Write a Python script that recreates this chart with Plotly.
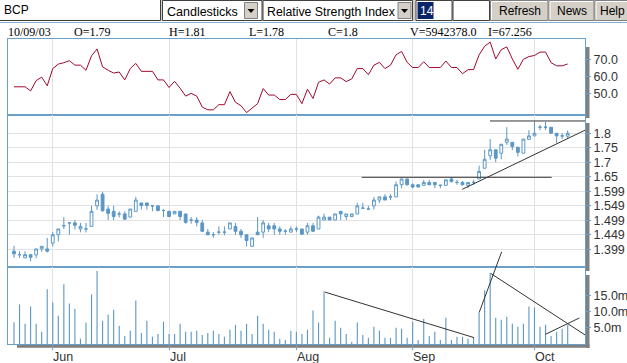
import plotly.graph_objects as go
import pandas as pd

# ---------------- data ----------------
dates = pd.bdate_range("2003-05-22", "2003-10-09")
xi = list(range(len(dates)))

opens = [1.392, 1.380, 1.369, 1.380, 1.379, 1.400, 1.400, 1.420, 1.449, 1.480,
         1.490, 1.490, 1.469, 1.469, 1.478, 1.549, 1.589, 1.538, 1.530, 1.521,
         1.521, 1.510, 1.530, 1.559, 1.559, 1.549, 1.549, 1.533, 1.530, 1.521,
         1.530, 1.521, 1.500, 1.500, 1.490, 1.458, 1.449, 1.458, 1.458, 1.469,
         1.478, 1.461, 1.449, 1.409, 1.458, 1.458, 1.480, 1.480, 1.469, 1.461,
         1.458, 1.469, 1.469, 1.458, 1.480, 1.469, 1.500, 1.510, 1.500, 1.530,
         1.512, 1.512, 1.521, 1.541, 1.538, 1.549, 1.569, 1.580, 1.580, 1.580,
         1.622, 1.642, 1.622, 1.622, 1.620, 1.630, 1.630, 1.620, 1.620, 1.642,
         1.630, 1.630, 1.620, 1.630, 1.642, 1.679, 1.722, 1.743, 1.731, 1.769,
         1.769, 1.752, 1.731, 1.779, 1.791, 1.821, 1.821, 1.821, 1.800, 1.791,
         1.790]
highs = [1.411, 1.392, 1.392, 1.380, 1.400, 1.409, 1.438, 1.458, 1.469, 1.510,
         1.490, 1.500, 1.490, 1.490, 1.549, 1.589, 1.598, 1.549, 1.549, 1.530,
         1.530, 1.538, 1.580, 1.559, 1.559, 1.549, 1.549, 1.538, 1.532, 1.530,
         1.530, 1.521, 1.510, 1.510, 1.500, 1.469, 1.458, 1.478, 1.478, 1.490,
         1.490, 1.469, 1.449, 1.438, 1.510, 1.500, 1.490, 1.490, 1.478, 1.469,
         1.478, 1.478, 1.469, 1.490, 1.490, 1.515, 1.522, 1.510, 1.521, 1.530,
         1.521, 1.521, 1.559, 1.559, 1.549, 1.580, 1.580, 1.589, 1.589, 1.633,
         1.642, 1.642, 1.627, 1.622, 1.639, 1.639, 1.630, 1.622, 1.639, 1.648,
         1.639, 1.635, 1.630, 1.639, 1.688, 1.743, 1.780, 1.743, 1.762, 1.821,
         1.769, 1.752, 1.780, 1.811, 1.840, 1.829, 1.840, 1.821, 1.800, 1.800,
         1.810]
lows = [1.369, 1.369, 1.369, 1.357, 1.368, 1.390, 1.388, 1.409, 1.426, 1.469,
        1.449, 1.467, 1.457, 1.457, 1.478, 1.535, 1.529, 1.500, 1.500, 1.509,
        1.500, 1.510, 1.530, 1.536, 1.536, 1.530, 1.530, 1.510, 1.510, 1.521,
        1.500, 1.487, 1.487, 1.478, 1.458, 1.447, 1.438, 1.449, 1.447, 1.469,
        1.449, 1.438, 1.409, 1.409, 1.449, 1.438, 1.458, 1.449, 1.449, 1.449,
        1.458, 1.458, 1.449, 1.449, 1.458, 1.469, 1.500, 1.500, 1.500, 1.500,
        1.500, 1.512, 1.521, 1.538, 1.536, 1.536, 1.559, 1.569, 1.569, 1.580,
        1.610, 1.619, 1.610, 1.614, 1.620, 1.620, 1.610, 1.610, 1.620, 1.630,
        1.622, 1.620, 1.610, 1.622, 1.642, 1.679, 1.708, 1.700, 1.710, 1.760,
        1.742, 1.720, 1.731, 1.779, 1.791, 1.811, 1.811, 1.800, 1.766, 1.780,
        1.780]
closes = [1.383, 1.380, 1.380, 1.371, 1.400, 1.409, 1.392, 1.449, 1.469, 1.480,
          1.490, 1.482, 1.478, 1.469, 1.530, 1.569, 1.532, 1.523, 1.512, 1.521,
          1.503, 1.538, 1.569, 1.550, 1.550, 1.549, 1.533, 1.533, 1.512, 1.530,
          1.512, 1.492, 1.500, 1.492, 1.461, 1.449, 1.449, 1.458, 1.458, 1.490,
          1.461, 1.449, 1.429, 1.438, 1.449, 1.490, 1.469, 1.469, 1.461, 1.461,
          1.469, 1.469, 1.451, 1.480, 1.461, 1.510, 1.510, 1.500, 1.521, 1.521,
          1.521, 1.521, 1.549, 1.541, 1.538, 1.569, 1.580, 1.569, 1.580, 1.622,
          1.642, 1.622, 1.614, 1.614, 1.630, 1.622, 1.622, 1.620, 1.639, 1.633,
          1.630, 1.622, 1.630, 1.630, 1.668, 1.710, 1.743, 1.714, 1.762, 1.780,
          1.754, 1.734, 1.780, 1.791, 1.800, 1.821, 1.821, 1.800, 1.791, 1.791,
          1.800]
volume_m = [6.7, 12.2, 6.25, 11.6, 6.25, 3.75, 16.9, 12.8, 8.75, 18.4,
            12.5, 10.9, 1.6, 6.6, 15.3, 22.5, 7.2, 9.1, 10.6, 5.6,
            2.5, 4.1, 13.4, 3.4, 7.2, 2.2, 3.1, 6.9, 3.1, 3.1,
            6.25, 3.75, 3.75, 4.1, 2.8, 3.4, 4.1, 3.1, 2.2, 4.4,
            5.9, 4.1, 6.25, 3.1, 8.75, 6.25, 4.4, 3.75, 1.6, 1.25,
            4.1, 3.75, 3.1, 4.4, 10.3, 6.6, 16.25, 1.9, 7.2, 5.0,
            3.1, 0.6, 6.6, 2.8, 1.9, 5.3, 4.1, 1.9, 1.9, 5.0,
            4.7, 1.9, 6.9, 1.25, 7.8, 2.5, 3.75, 1.25, 8.1, 1.25,
            2.2, 2.2, 1.6, 1.9, 9.8, 16.6, 21.8, 8.1, 7.5, 8.4,
            6.25, 5.3, 6.25, 11.6, 11.25, 5.3, 5.9, 2.5, 3.75, 4.7,
            5.94]
rsi = [54.0, 54.0, 54.0, 51.6, 57.6, 59.6, 54.6, 64.6, 67.2, 68.0,
       69.2, 66.6, 66.6, 63.6, 72.0, 76.0, 65.6, 63.6, 62.0, 62.6,
       58.0, 64.6, 67.6, 63.0, 63.0, 63.0, 58.0, 58.0, 53.6, 57.2,
       53.2, 48.6, 50.2, 48.6, 42.2, 40.6, 40.6, 43.6, 43.6, 51.2,
       45.0, 43.0, 39.0, 41.6, 44.2, 53.0, 49.2, 49.2, 46.6, 46.6,
       49.6, 49.6, 44.2, 52.6, 47.2, 56.6, 58.0, 55.6, 59.2, 59.2,
       57.0, 58.6, 64.6, 64.6, 61.0, 66.6, 68.2, 64.6, 66.6, 72.6,
       74.6, 68.2, 65.2, 65.2, 68.6, 65.2, 65.2, 65.2, 69.0, 65.2,
       65.2, 61.6, 64.0, 64.0, 72.6, 77.6, 80.0, 70.2, 75.6, 77.2,
       70.2, 64.2, 70.0, 71.6, 72.2, 74.2, 74.2, 68.0, 66.2, 66.2,
       67.256]

month_labels = ["Jun", "Jul", "Aug", "Sep", "Oct"]
month_ticks = [i for i in range(1, len(dates)) if dates[i].month != dates[i - 1].month]

price_ticks = [1.399, 1.449, 1.499, 1.549, 1.599, 1.65, 1.7, 1.75, 1.8]
price_tick_text = ["1.399", "1.449", "1.499", "1.549", "1.599", "1.65", "1.7", "1.75", "1.8"]
rsi_ticks = [50, 60, 70]
rsi_tick_text = ["50.0", "60.0", "70.0"]
vol_ticks = [5, 10, 15]
vol_tick_text = ["5.0m", "10.0m", "15.0m"]

info_labels = ["10/09/03", "O=1.79", "H=1.81", "L=1.78", "C=1.8", "V=5942378.0", "I=67.256"]

# trendlines drawn by the user: (x0, y0, x1, y1) in index / value units
price_trendlines = [(85.97, 1.8426, 103.2, 1.8426),
                    (62.8, 1.6478, 97.1, 1.6478),
                    (80.96, 1.6062, 103.2, 1.8114),
                    (87.05, 1.3374, 88.08, 1.3903)]
volume_trendlines = [(56.17, 16.0, 83.08, 1.97),
                     (84.03, 9.78, 88.08, 28.5),
                     (86.09, 21.78, 103.2, 2.72),
                     (96.03, 3.03, 102.1, 8.03)]

# ---------------- styling ----------------
W, H = 627, 363
BLUE = "#5b97c6"
BORDER = "#6a9fca"
GRID = "#e2e2e2"
RED = "#a00a2c"
TXT = "#333333"
TB = "#d4d0c8"


def px(x):
    return x / W


def py(y):
    return 1 - y / H


fig = go.Figure()

fig.add_trace(go.Scatter(x=xi, y=rsi, mode="lines", line=dict(color=RED, width=1),
                         xaxis="x", yaxis="y", hoverinfo="skip"))
fig.add_trace(go.Candlestick(x=xi, open=opens, high=highs, low=lows, close=closes,
                             xaxis="x2", yaxis="y2", whiskerwidth=0,
                             increasing=dict(line=dict(color=BLUE, width=1), fillcolor="white"),
                             decreasing=dict(line=dict(color=BLUE, width=1), fillcolor=BLUE)))
fig.add_trace(go.Bar(x=xi, y=volume_m, width=0.2, xaxis="x3", yaxis="y3",
                     marker=dict(color=BLUE, line=dict(width=0))))

xr = [(8 - 14) / 5.537, (585 - 14) / 5.537]
xcommon = dict(domain=[px(8), px(585)], range=xr, showgrid=True, gridcolor=GRID, gridwidth=1,
               tickvals=month_ticks, showticklabels=False, zeroline=False, automargin=False,
               showline=True, mirror=True, linecolor=BORDER, linewidth=1, fixedrange=True)
ycommon = dict(side="right", showline=True, mirror=True, linecolor=BORDER, linewidth=1,
               ticks="outside", ticklen=5, tickcolor=BORDER, zeroline=False, automargin=False,
               tickfont=dict(family="Liberation Sans", size=12.5, color=TXT), fixedrange=True)

fig.update_layout(
    width=W, height=H, margin=dict(l=0, r=0, t=0, b=0, pad=0), autosize=False,
    paper_bgcolor="white", plot_bgcolor="white", showlegend=False, boxgap=0.28,
    xaxis=dict(anchor="y", ticks="", **xcommon),
    xaxis2=dict(anchor="y2", matches="x", ticks="", rangeslider=dict(visible=False), **xcommon),
    xaxis3=dict(anchor="y3", matches="x", ticks="outside", ticklen=5, tickcolor=BORDER, **xcommon),
    yaxis=dict(anchor="x", domain=[py(115), py(39)], range=[37.6, 81.8], showgrid=False,
               tickvals=rsi_ticks, ticktext=rsi_tick_text, **ycommon),
    yaxis2=dict(anchor="x2", domain=[py(267), py(115)], range=[1.3374, 1.8633], showgrid=True,
                gridcolor=GRID, tickvals=price_ticks, ticktext=price_tick_text, **ycommon),
    yaxis3=dict(anchor="x3", domain=[py(344), py(267)], range=[0, 23.75], showgrid=False,
                tickvals=vol_ticks, ticktext=vol_tick_text, **ycommon),
)

shapes = []
# panel drop shadows
for (x0, y0, x1, y1) in [(586, 47, 589.5, 118), (586, 123, 589.5, 271), (586, 275, 589.5, 348),
                         (17, 344.3, 589.5, 347.8)]:
    shapes.append(dict(type="rect", xref="paper", yref="paper", x0=px(x0), x1=px(x1),
                       y0=py(y1), y1=py(y0), fillcolor="#808080", line=dict(width=0), layer="below"))
# trendlines
for (a, b, c, d) in price_trendlines:
    shapes.append(dict(type="line", xref="x2", yref="y2", x0=a, y0=b, x1=c, y1=d,
                       line=dict(color="#333333", width=1), layer="above"))
for (a, b, c, d) in volume_trendlines:
    shapes.append(dict(type="line", xref="x3", yref="y3", x0=a, y0=b, x1=c, y1=d,
                       line=dict(color="#333333", width=1), layer="above"))

# ---------- toolbar ----------
def rect(x0, y0, x1, y1, fill, line=None, lw=1):
    shapes.append(dict(type="rect", xref="paper", yref="paper", x0=px(x0), x1=px(x1),
                       y0=py(y1), y1=py(y0), fillcolor=fill,
                       line=dict(color=line or fill, width=lw if line else 0), layer="above"))


def seg(x0, y0, x1, y1, color, lw=1):
    shapes.append(dict(type="line", xref="paper", yref="paper", x0=px(x0), x1=px(x1),
                       y0=py(y0), y1=py(y1), line=dict(color=color, width=lw), layer="above"))


rect(0, 0, 627, 21, TB)
seg(0, 22.5, 627, 22.5, "#86afd4", 1)
# text box BCP
rect(-2, -2, 160.5, 20.5, "white", "#404040")
# selects
for (x0, x1, ax0) in [(162.5, 262, 244.5), (263, 412.5, 398)]:
    rect(x0, 0.5, x1, 20.5, "white", "#404040")
    rect(ax0, 2.5, ax0 + 13, 18.5, TB, "#808080")
    cx = ax0 + 6.5
    shapes.append(dict(type="path", xref="paper", yref="paper",
                       path=f"M {px(cx - 3.5)},{py(9)} L {px(cx + 3.5)},{py(9)} L {px(cx)},{py(13)} Z",
                       fillcolor="black", line=dict(width=0), layer="above"))
# inputs
rect(416, 0.5, 452, 20.5, "white", "#404040")
rect(417.5, 2, 433.5, 19, "#0a246a")
rect(453, 0.5, 489.5, 20.5, "white", "#404040")
# buttons
for (x0, x1) in [(490.5, 548), (549, 594), (595, 640)]:
    rect(x0, 0.5, x1, 20.5, TB, "#808080")
    seg(x0 + 1, 1.5, x1 - 1, 1.5, "white")
    seg(x0 + 1, 1.5, x0 + 1, 19.5, "white")

fig.update_layout(shapes=shapes)

ann = []


def text(t, x, y, size=12, color="black", family="Liberation Sans", anchor="left"):
    ann.append(dict(text=t, x=px(x), y=py(y), xref="paper", yref="paper", showarrow=False,
                    xanchor=anchor, yanchor="middle", font=dict(family=family, size=size, color=color)))


text("BCP", 1.5, 10, 12)
text("Candlesticks", 164.5, 11.5, 12.5)
text("Relative Strength Index", 265, 11.5, 12.3)
text("14", 417.5, 10.5, 12, "white")
text("Refresh", 519.5, 10.5, 12, anchor="center")
text("News", 571.5, 10.5, 12, anchor="center")
text("Help", 598, 10.5, 12)

for t, x in zip(info_labels, [6, 72, 167, 247, 326, 408, 486]):
    text(t, x, 32, 12, "black", "Liberation Serif")

for t, i in zip(month_labels, month_ticks):
    ann.append(dict(text=t, x=i, y=py(356.5), xref="x3", yref="paper", showarrow=False,
                    xanchor="left", yanchor="middle", xshift=-1.5,
                    font=dict(family="Liberation Sans", size=12.5, color=TXT)))

fig.update_layout(annotations=ann)

fig.write_html("out.html", config={"displayModeBar": False, "staticPlot": True},
               post_script="document.body.style.margin='0px';document.body.style.overflow='hidden';")
